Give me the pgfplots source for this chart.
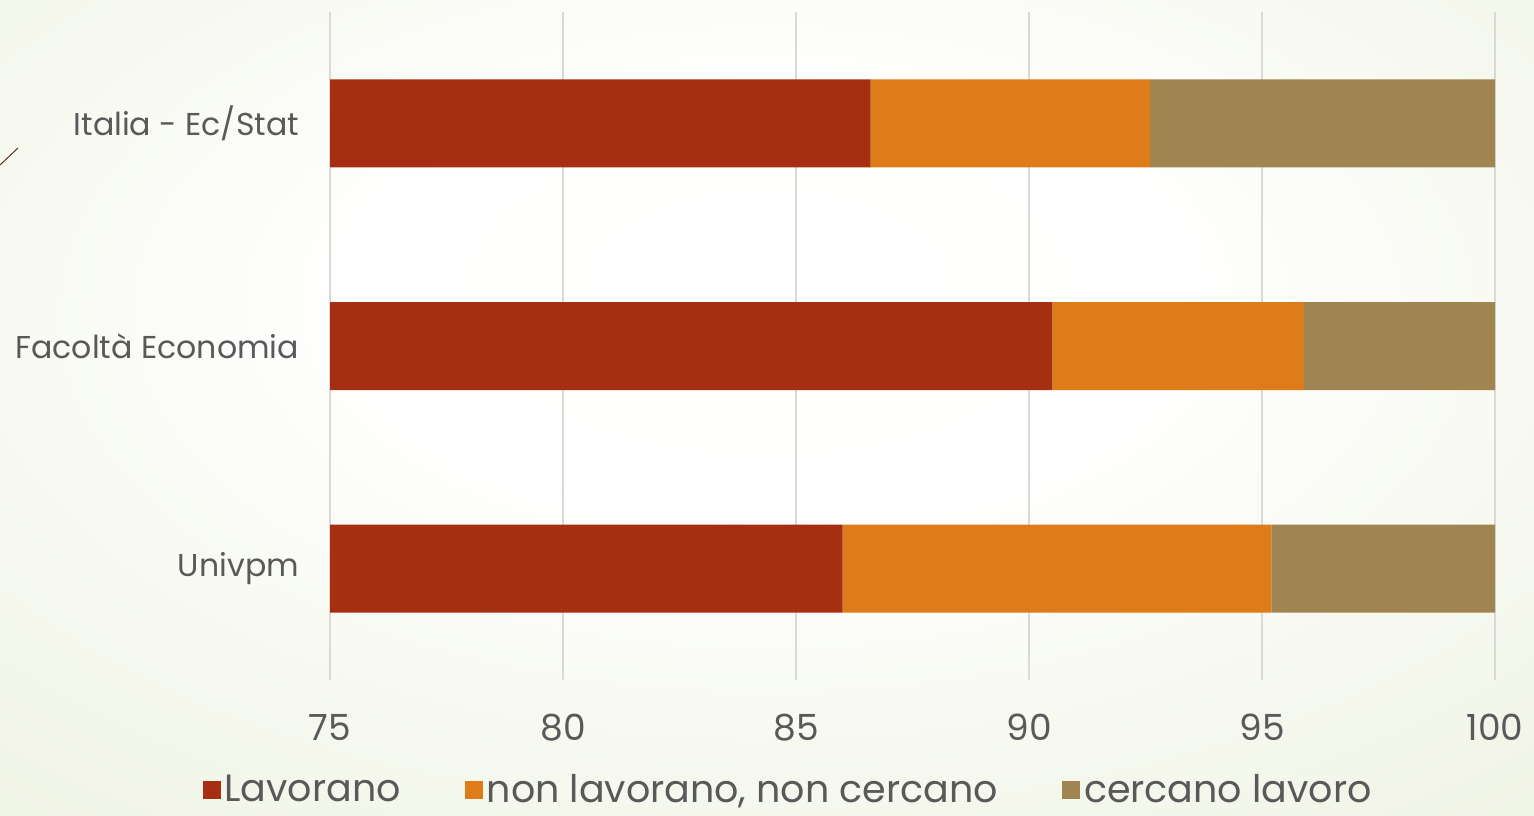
\documentclass[border=0pt]{standalone}
\usepackage{pgfplots}
\pgfplotsset{compat=1.18}
\usepackage{fontspec}
\setmainfont{Poppins}
\definecolor{cLav}{HTML}{A52F10}
\definecolor{cNon}{HTML}{DD7C19}
\definecolor{cCer}{HTML}{A08452}
\definecolor{txt}{HTML}{595959}
\definecolor{grd}{HTML}{D9D9D9}
\definecolor{bgout}{HTML}{E8EED7}
\pgfdeclareradialshading{bgshade}{\pgfpoint{0bp}{8bp}}{color(0bp)=(white); color(14bp)=(white!97!bgout); color(32bp)=(white!50!bgout); color(52bp)=(bgout); color(80bp)=(bgout)}
\begin{document}
\begin{tikzpicture}[x=1pt,y=1pt]
\useasboundingbox (0,0) rectangle (767,407.5);
\shade[shading=bgshade] (0,0) rectangle (767,407.5);
\draw[color=black!55!brown, line width=0.5pt] (0,325) -- (9,333.5);
\begin{axis}[at={(165pt,67.5pt)}, anchor=south west, scale only axis,
  width=582.5pt, height=334pt,
  xbar stacked, bar width=44pt,
  xmin=75, xmax=100, ymin=-0.5, ymax=2.5,
  ytick={0,1,2}, yticklabels={Univpm, Facoltà Economia, Italia - Ec/Stat},
  xtick={75,80,85,90,95,100},
  xmajorgrids, grid style={grd, line width=0.75pt},
  axis line style={draw=none}, major tick length=0pt,
  tick label style={text=txt},
  xticklabel style={font=\fontsize{18}{20}\selectfont, yshift=-13.5pt},
  yticklabel style={font=\fontsize{15.8}{18}\selectfont, xshift=-12pt},
  /pgf/number format/assume math mode=true,
  legend style={at={(0.394,-0.165)}, anchor=center, draw=none, fill=none,
    font=\fontsize{19}{21}\selectfont, text=txt, legend columns=3,
    /tikz/every even column/.append style={column sep=30pt}},
  legend image code/.code={\fill[#1] (-4pt,-4.5pt) rectangle (5pt,4.5pt);},
  legend cell align=left,
]
\addplot[fill=cLav, draw=none] coordinates {(86.6,2) (90.5,1) (86.0,0)};
\addplot[fill=cNon, draw=none] coordinates {(6.0,2) (5.4,1) (9.2,0)};
\addplot[fill=cCer, draw=none] coordinates {(7.5,2) (4.1,1) (4.8,0)};
\legend{Lavorano, {non lavorano, non cercano}, cercano lavoro}
\end{axis}
\end{tikzpicture}
\end{document}
